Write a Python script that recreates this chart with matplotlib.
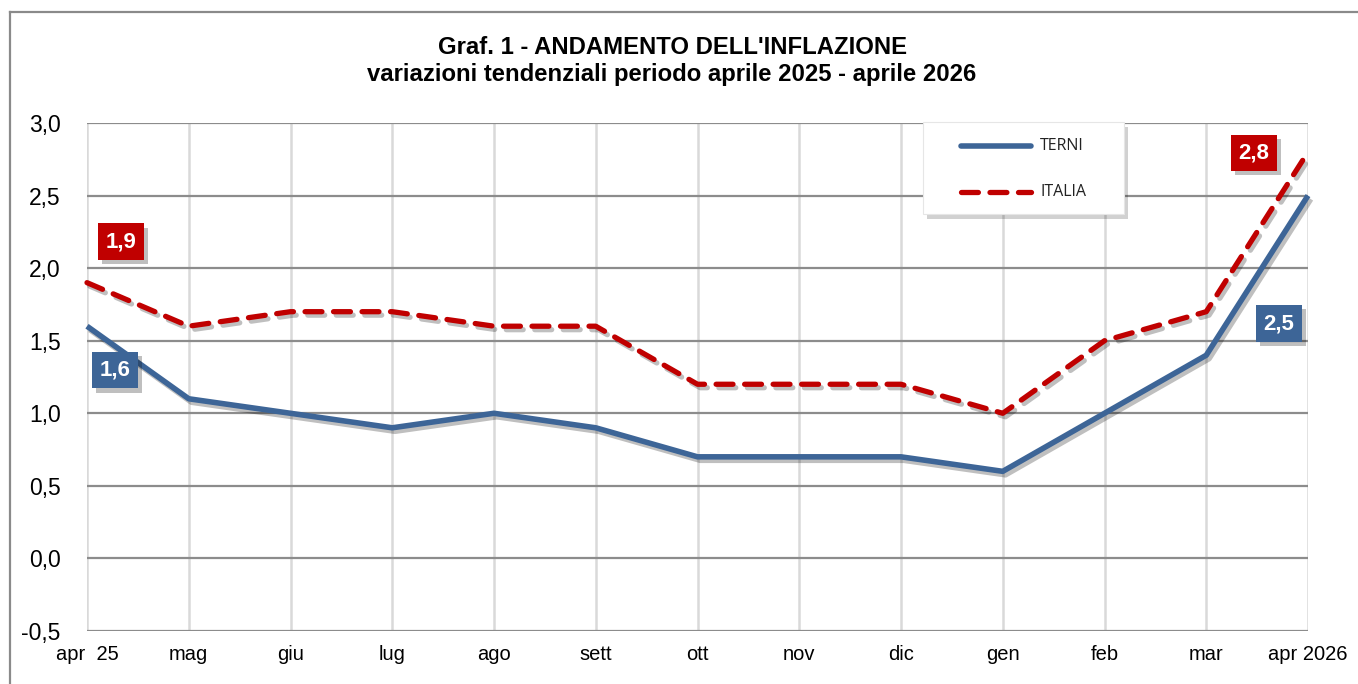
import matplotlib.pyplot as plt
import matplotlib.patheffects as pe
from matplotlib.patches import Rectangle
from matplotlib.lines import Line2D

months = ['apr  25', 'mag', 'giu', 'lug', 'ago', 'sett', 'ott', 'nov', 'dic', 'gen', 'feb', 'mar', 'apr 2026']
terni = [1.6, 1.1, 1.0, 0.9, 1.0, 0.9, 0.7, 0.7, 0.7, 0.6, 1.0, 1.4, 2.5]
italia = [1.9, 1.6, 1.7, 1.7, 1.6, 1.6, 1.2, 1.2, 1.2, 1.0, 1.5, 1.7, 2.8]
yticks = [-0.5, 0.0, 0.5, 1.0, 1.5, 2.0, 2.5, 3.0]

BLUE = '#3d6597'
RED = '#c00000'
W, H = 1358, 684

plt.rcParams['font.family'] = ['Liberation Sans', 'DejaVu Sans']

fig = plt.figure(figsize=(W / 100, H / 100), dpi=100)

def px(x0, y0, w, h):
    # pixel box (top-left origin) -> figure fraction
    return [x0 / W, 1 - (y0 + h) / H, w / W, h / H]

ax = fig.add_axes(px(87, 123, 1221, 508))
x = list(range(len(months)))

shadow = [pe.SimpleLineShadow(offset=(2, -2.5), shadow_color='black', alpha=0.25), pe.Normal()]
ax.plot(x, terni, color=BLUE, lw=4, solid_capstyle='butt', solid_joinstyle='round',
        path_effects=shadow, zorder=4, clip_on=False)
ax.plot(x, italia, color=RED, lw=3.8, dashes=(3.2, 2.2), dash_capstyle='round',
        path_effects=shadow, zorder=5, clip_on=False)

ax.set_xlim(0, len(months) - 1)
ax.set_ylim(-0.5, 3.0)
ax.set_xticks(x)
ax.set_xticklabels(months, fontsize=14.5)
ax.set_yticks(yticks)
ax.set_yticklabels([f'{v:.1f}'.replace('.', ',') for v in yticks], fontsize=16.5)
ax.tick_params(axis='x', length=0, pad=10)
ax.tick_params(axis='y', length=0, pad=19)

for v in x:
    ax.axvline(v, color='#d9d9d9', lw=1.8, zorder=1)
for v in yticks:
    ax.axhline(v, color='#8c8c8c', lw=1.6, zorder=2)
for s in ax.spines.values():
    s.set_visible(False)

# value labels with a drop shadow on the box
def tag(i, vals, col, dx, dy):
    txt = f'{vals[i]:.1f}'.replace('.', ',')
    t = ax.annotate(txt, (x[i], vals[i]), xytext=(dx * 0.72, -dy * 0.72), textcoords='offset points',
                    ha='center', va='center', fontsize=16, fontweight='bold', color='white',
                    bbox=dict(boxstyle='square,pad=0.35', fc=col, ec='none'),
                    zorder=8, annotation_clip=False)
    t.get_bbox_patch().set_path_effects([
        pe.SimplePatchShadow(offset=(3, -3), shadow_rgbFace='black', alpha=0.25), pe.Normal()])

tag(0, italia, RED, 34, -41)
tag(0, terni, BLUE, 28, 44)
tag(12, italia, RED, -54, 1)
tag(12, terni, BLUE, -29, 128)

# legend box
lax = fig.add_axes(px(923, 122, 201, 92))
lax.set_xlim(0, 201)
lax.set_ylim(92, 0)
lax.axis('off')
lax.add_patch(Rectangle((4, 5), 201, 92, fc='black', alpha=0.18, ec='none', clip_on=False, zorder=0))
lax.add_patch(Rectangle((0, 0), 201, 92, fc='white', ec='#e6e6e6', lw=0.8, clip_on=False, zorder=1))
lax.add_line(Line2D([38, 108], [24, 24], color=BLUE, lw=4, solid_capstyle='round', zorder=2))
lax.add_line(Line2D([38, 108], [70, 70], color=RED, lw=3.8, dashes=(3.2, 2.2),
                    dash_capstyle='round', zorder=2))
lax.text(117, 24, 'TERNI', fontsize=11.5, va='center', family=['Open Sans', 'DejaVu Sans'], color='#222222')
lax.text(117, 70, 'ITALIA', fontsize=11.5, va='center', family=['Open Sans', 'DejaVu Sans'], color='#222222')

# title
fig.text(672 / W, 1 - 47 / H, "Graf. 1 - ANDAMENTO DELL'INFLAZIONE", ha='center', va='center',
         fontsize=17.2, fontweight='bold')
fig.text(672 / W, 1 - 74 / H, 'variazioni tendenziali periodo aprile 2025 - aprile 2026', ha='center',
         va='center', fontsize=17.2, fontweight='bold')

# outer frame
fig.add_artist(Line2D([10 / W, 10 / W], [0, 1 - 12 / H], color='#8a8a8a', lw=1.6))
fig.add_artist(Line2D([10 / W, 1], [1 - 12 / H, 1 - 12 / H], color='#8a8a8a', lw=1.6))

fig.savefig('out.png', dpi=100)
